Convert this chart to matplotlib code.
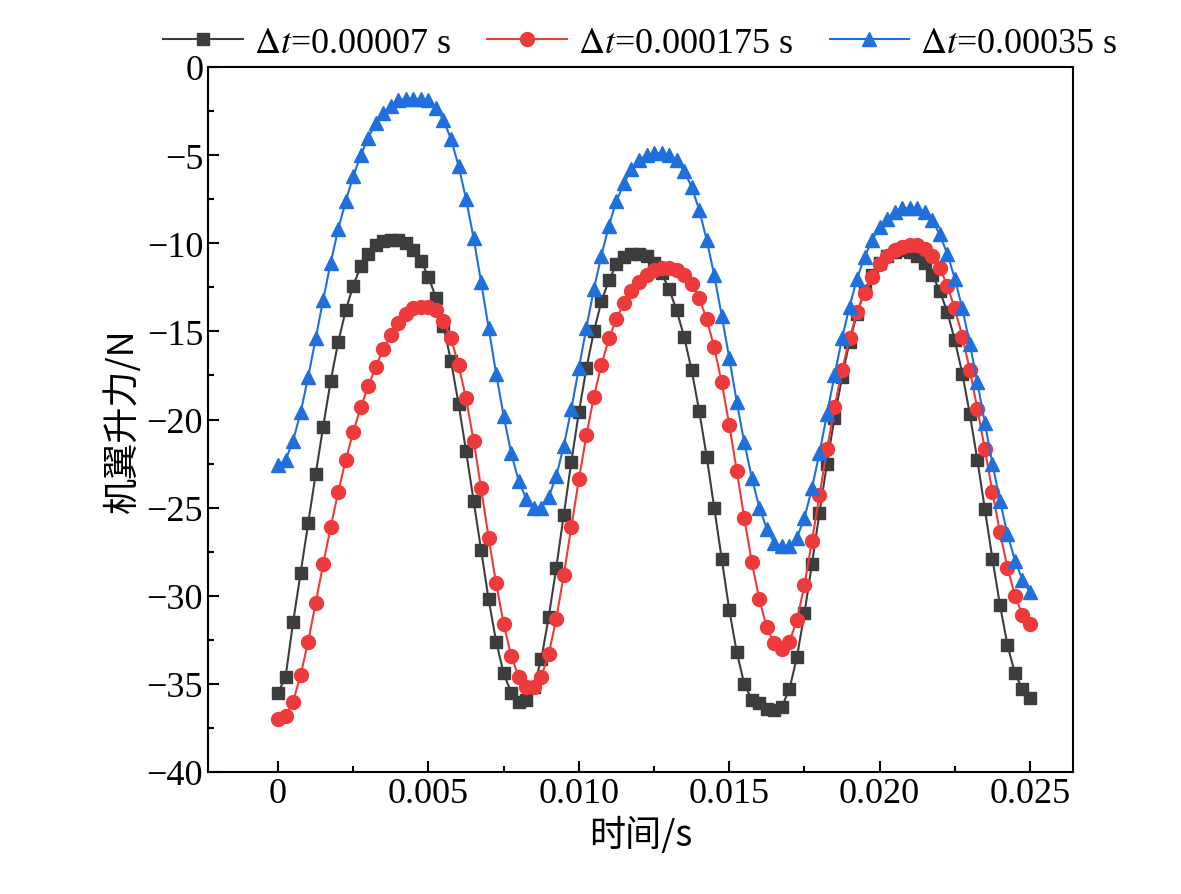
import numpy as np
import matplotlib
matplotlib.use("Agg")
import matplotlib.pyplot as plt
from matplotlib.ticker import MultipleLocator

t = [0.00025 * k for k in range(101)]
black = [-35.5,-34.6,-31.5,-28.7,-25.9,-23.1,-20.4,-17.8,-15.6,-13.8,-12.4,-11.3,-10.6,-10.1,-9.9,-9.8,-9.8,-10.0,-10.4,-11.0,
 -11.9,-13.1,-14.7,-16.7,-19.1,-21.8,-24.6,-27.4,-30.2,-32.6,-34.4,-35.5,-36.0,-35.9,-35.2,-33.6,-31.2,-28.4,-25.4,-22.4,
 -19.6,-17.1,-15.0,-13.3,-12.1,-11.2,-10.8,-10.6,-10.6,-10.7,-11.1,-11.7,-12.6,-13.8,-15.3,-17.2,-19.5,-22.1,-25.0,-27.9,
 -30.8,-33.2,-35.0,-35.9,-36.1,-36.4,-36.5,-36.3,-35.3,-33.5,-31.0,-28.2,-25.3,-22.5,-19.9,-17.6,-15.6,-14.0,-12.7,-11.8,
 -11.1,-10.7,-10.5,-10.4,-10.5,-10.7,-11.1,-11.8,-12.7,-13.9,-15.5,-17.4,-19.7,-22.3,-25.1,-27.9,-30.5,-32.8,-34.4,-35.3,-35.8]
red = [-37.0,-36.8,-36.0,-34.5,-32.6,-30.4,-28.2,-26.1,-24.1,-22.3,-20.7,-19.3,-18.1,-17.0,-16.0,-15.2,-14.5,-14.0,-13.7,-13.6,
 -13.6,-13.8,-14.4,-15.4,-16.9,-18.8,-21.2,-23.9,-26.7,-29.3,-31.6,-33.4,-34.6,-35.2,-35.2,-34.6,-33.3,-31.3,-28.8,-26.1,
 -23.4,-20.9,-18.7,-16.9,-15.4,-14.3,-13.4,-12.7,-12.2,-11.8,-11.5,-11.4,-11.4,-11.5,-11.8,-12.3,-13.1,-14.3,-15.9,-17.9,
 -20.3,-22.9,-25.6,-28.1,-30.2,-31.8,-32.7,-33.0,-32.6,-31.4,-29.4,-26.9,-24.3,-21.7,-19.3,-17.2,-15.4,-13.9,-12.8,-11.9,
 -11.2,-10.7,-10.4,-10.2,-10.1,-10.1,-10.3,-10.7,-11.4,-12.4,-13.7,-15.3,-17.2,-19.4,-21.7,-24.1,-26.4,-28.4,-30.0,-31.1,-31.6]
blue = [-22.6,-22.3,-21.2,-19.6,-17.6,-15.4,-13.2,-11.1,-9.2,-7.6,-6.2,-5.0,-4.0,-3.2,-2.6,-2.2,-1.9,-1.8,-1.8,-1.8,
 -1.9,-2.3,-3.0,-4.1,-5.6,-7.5,-9.7,-12.2,-14.8,-17.4,-19.8,-21.9,-23.5,-24.5,-25.0,-25.0,-24.4,-23.2,-21.5,-19.4,
 -17.1,-14.8,-12.6,-10.7,-9.0,-7.6,-6.6,-5.8,-5.3,-5.0,-4.9,-4.9,-5.0,-5.3,-5.9,-6.8,-8.1,-9.8,-11.8,-14.1,
 -16.5,-19.0,-21.3,-23.3,-25.0,-26.2,-27.0,-27.2,-27.2,-26.7,-25.6,-23.9,-21.9,-19.7,-17.5,-15.4,-13.6,-12.0,-10.8,-9.8,
 -9.1,-8.6,-8.2,-8.0,-8.0,-8.0,-8.2,-8.7,-9.5,-10.6,-12.0,-13.7,-15.7,-17.9,-20.2,-22.5,-24.6,-26.5,-28.0,-29.1,-29.8]
labels = [r"$\Delta t$=0.00007 s", r"$\Delta t$=0.000175 s", r"$\Delta t$=0.00035 s"]

plt.rcParams['font.family'] = ['Liberation Serif', 'Noto Sans CJK SC']
plt.rcParams['mathtext.fontset'] = 'stix'
fig = plt.figure(figsize=(11.81, 8.95), dpi=100)
ax = fig.add_axes([208/1181, 1-773/895, (1073-208)/1181, (773-68)/895])
ax.plot(t, black, '-s', color='#3d3d3d', ms=9, lw=1.5, label=labels[0])
ax.plot(t, red, '-o', color='#ee3a3a', ms=10, lw=1.5, label=labels[1])
ax.plot(t, blue, '-^', color='#1f6fdc', ms=10, lw=1.5, label=labels[2])
ax.set_xlim(-0.00233, 0.02643)
ax.set_ylim(-40, 0)
ax.xaxis.set_minor_locator(MultipleLocator(0.0025))
ax.yaxis.set_minor_locator(MultipleLocator(2.5))
ax.set_xticks([0,0.005,0.010,0.015,0.020,0.025])
ax.set_xticklabels(['0','0.005','0.010','0.015','0.020','0.025'])
ax.set_yticks(range(-40, 1, 5))
ax.set_yticklabels([('\u2212%d' % -v) if v < 0 else '0' for v in range(-40, 1, 5)])
ax.tick_params(which='both', direction='in', width=1.5, labelsize=26)
ax.tick_params(which='major', length=8)
ax.tick_params(which='minor', length=4)
for s in ax.spines.values():
    s.set_linewidth(1.5)
ax.set_xlabel('时间/s', fontsize=26, family=['Noto Sans CJK SC', 'Liberation Serif'])
ax.set_ylabel('机翼升力/N', fontsize=26, family=['Noto Sans CJK SC', 'Liberation Serif'])
ax.legend(loc='lower center', bbox_to_anchor=(0.5, 0.99), ncol=3, frameon=False,
          fontsize=26, handlelength=2.2, columnspacing=1.0, handletextpad=0.3, borderaxespad=0)
fig.savefig('out.png', dpi=100)
